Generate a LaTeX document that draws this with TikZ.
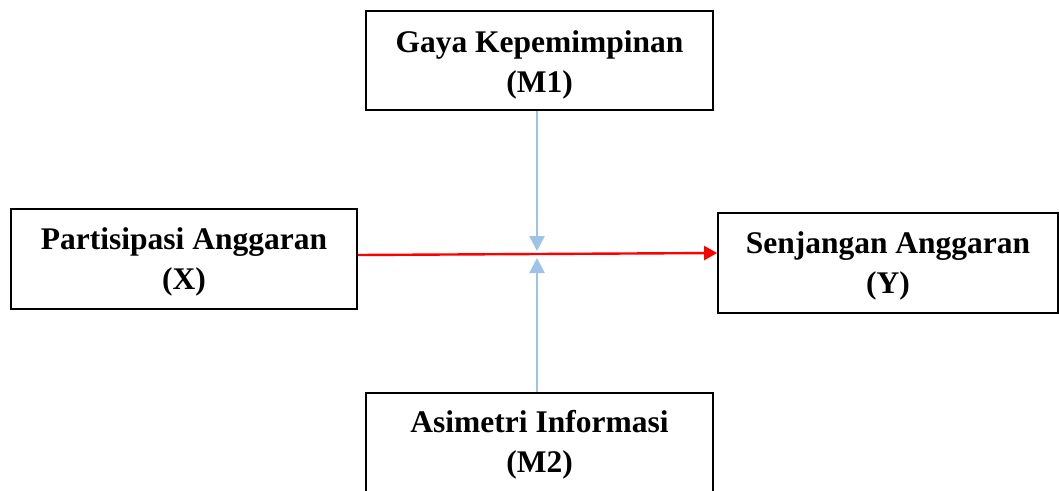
\documentclass[tikz,border=0pt]{standalone}
\usepackage{fontspec}
\setmainfont{Liberation Serif}
\usetikzlibrary{arrows.meta}
\definecolor{lblue}{RGB}{157,195,230}
\definecolor{pred}{RGB}{255,0,0}
\begin{document}
\begin{tikzpicture}[x=1pt,y=-1pt,
  box/.style={draw=black,line width=1.8pt,inner sep=0pt},
  txt/.style={inner sep=0pt,align=center,font=\fontsize{31.5}{40}\selectfont\bfseries},
  blarrow/.style={draw=lblue,line width=2.6pt,-{Triangle[width=15pt,length=15pt]}},
  redarrow/.style={draw=pred,line width=2.4pt,-{Triangle[width=14pt,length=13pt]}}]
\useasboundingbox (0,0) rectangle (1059,490);
\node[box,minimum width=347pt,minimum height=99pt] (M1) at (539.5,60.5) {};
\node[box,minimum width=346pt,minimum height=100pt] (X) at (184,259) {};
\node[box,minimum width=340pt,minimum height=100pt] (Y) at (888,263) {};
\node[box,minimum width=347pt,minimum height=102pt] (M2) at (539.5,444) {};
\node[txt] (tM1) at ([yshift=-4pt]M1.center) {Gaya Kepemimpinan\\(M1)};
\node[txt] (tX) at ([yshift=-3pt]X.center) {Partisipasi Anggaran\\(X)};
\node[txt] (tY) at ([yshift=-3pt]Y.center) {Senjangan Anggaran\\(Y)};
\node[txt] (tM2) at ([yshift=-1pt]M2.center) {Asimetri Informasi\\(M2)};
\coordinate (mtop) at (537,251);
\coordinate (mbot) at (537,258);
\draw[redarrow] ([yshift=4pt]X.east) -- ([yshift=10pt]Y.west);
\draw[blarrow] ([xshift=-2.5pt]M1.south) -- (mtop);
\draw[blarrow] ([xshift=-2.5pt]M2.north) -- (mbot);
\end{tikzpicture}
\end{document}
